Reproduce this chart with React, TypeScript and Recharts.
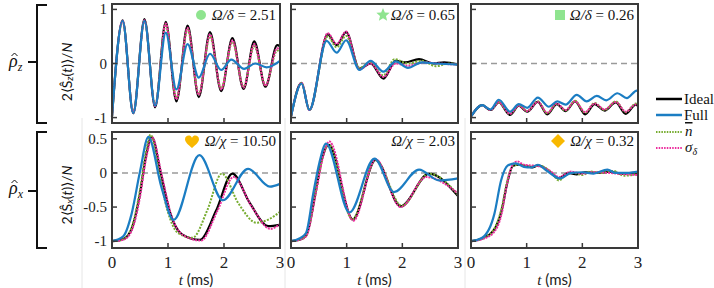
import { LineChart, Line, XAxis, YAxis, ReferenceLine } from 'recharts';

type Pt = [number, number];

// top row: 2<S_z(t)>/N, columns Ω/δ = 2.51, 0.65, 0.26
const zIdealA: Pt[] = [[0, -0.98], [0.19, 0.8], [0.38, -0.92], [0.58, 0.82], [0.77, -0.81], [0.96, 0.77], [1.15, -0.7], [1.35, 0.7], [1.55, -0.62], [1.75, 0.58], [1.95, -0.51], [2.15, 0.47], [2.35, -0.47], [2.54, 0.41], [2.74, -0.43], [2.95, 0.34], [3, 0.32]];
const zNbarA: Pt[] = [[0, -0.98], [0.19, 0.78], [0.38, -0.9], [0.58, 0.79], [0.77, -0.77], [0.96, 0.72], [1.15, -0.64], [1.35, 0.63], [1.55, -0.56], [1.75, 0.5], [1.95, -0.46], [2.15, 0.4], [2.35, -0.43], [2.54, 0.32], [2.74, -0.4], [2.95, 0.24], [3, 0.22]];
const zSigmaA: Pt[] = [[0, -0.98], [0.19, 0.79], [0.38, -0.91], [0.58, 0.8], [0.77, -0.79], [0.96, 0.74], [1.15, -0.66], [1.35, 0.66], [1.55, -0.58], [1.75, 0.54], [1.95, -0.48], [2.15, 0.43], [2.35, -0.45], [2.54, 0.36], [2.74, -0.41], [2.95, 0.28], [3, 0.26]];
const zFullA: Pt[] = [[0, -0.98], [0.19, 0.79], [0.38, -0.92], [0.58, 0.79], [0.77, -0.78], [0.96, 0.57], [1.15, -0.48], [1.35, 0.36], [1.55, -0.26], [1.75, 0.18], [1.95, -0.12], [2.13, 0.07], [2.36, -0.1], [2.56, 0.0], [2.76, -0.07], [3, 0.05]];

const zIdealB: Pt[] = [[0, -0.98], [0.19, -0.36], [0.33, -0.86], [0.66, 0.54], [0.82, 0.34], [0.99, 0.58], [1.23, -0.1], [1.43, 0.0], [1.66, -0.28], [1.88, 0.05], [2.05, 0.02], [2.3, 0.08], [2.55, 0.0], [2.75, 0.02], [3, -0.02]];
const zNbarB: Pt[] = [[0, -0.98], [0.19, -0.36], [0.33, -0.86], [0.66, 0.5], [0.82, 0.3], [0.99, 0.51], [1.23, -0.08], [1.43, 0.02], [1.66, -0.22], [1.86, 0.08], [2.1, 0.0], [2.35, 0.05], [2.6, -0.05], [2.85, 0.0], [3, -0.02]];
const zSigmaB: Pt[] = [[0, -0.98], [0.19, -0.36], [0.33, -0.86], [0.66, 0.56], [0.82, 0.36], [0.99, 0.59], [1.23, -0.11], [1.43, 0.0], [1.66, -0.25], [1.88, 0.0], [2.1, -0.04], [2.4, 0.02], [2.65, 0.0], [3, -0.02]];
const zFullB: Pt[] = [[0, -0.98], [0.19, -0.37], [0.33, -0.86], [0.64, 0.42], [0.82, 0.2], [0.99, 0.43], [1.23, -0.12], [1.43, 0.05], [1.66, -0.15], [1.88, 0.04], [2.1, -0.08], [2.35, 0.02], [2.6, 0.0], [3, -0.02]];

const zIdealC: Pt[] = [[0, -0.98], [0.2, -0.77], [0.35, -0.86], [0.5, -0.72], [0.7, -0.95], [0.86, -0.78], [1.01, -0.89], [1.2, -0.71], [1.37, -0.94], [1.54, -0.75], [1.7, -0.88], [1.87, -0.7], [2.05, -0.94], [2.22, -0.75], [2.4, -0.87], [2.6, -0.72], [2.78, -0.93], [2.96, -0.76], [3, -0.78]];
const zNbarC: Pt[] = [[0, -0.98], [0.2, -0.77], [0.35, -0.86], [0.5, -0.72], [0.7, -0.93], [0.86, -0.77], [1.01, -0.88], [1.2, -0.7], [1.37, -0.92], [1.54, -0.74], [1.7, -0.87], [1.87, -0.69], [2.05, -0.91], [2.22, -0.73], [2.4, -0.86], [2.6, -0.7], [2.78, -0.9], [2.96, -0.74], [3, -0.76]];
const zSigmaC: Pt[] = [[0, -0.98], [0.2, -0.77], [0.35, -0.86], [0.5, -0.72], [0.7, -0.93], [0.86, -0.78], [1.01, -0.88], [1.2, -0.71], [1.37, -0.91], [1.54, -0.74], [1.7, -0.86], [1.87, -0.7], [2.05, -0.9], [2.22, -0.74], [2.4, -0.85], [2.6, -0.71], [2.78, -0.89], [2.96, -0.76], [3, -0.8]];
const zFullC: Pt[] = [[0, -0.98], [0.2, -0.77], [0.35, -0.85], [0.5, -0.67], [0.7, -0.89], [0.86, -0.75], [1.01, -0.82], [1.2, -0.63], [1.4, -0.8], [1.55, -0.7], [1.7, -0.76], [1.9, -0.58], [2.08, -0.7], [2.26, -0.6], [2.43, -0.68], [2.63, -0.55], [2.8, -0.64], [2.98, -0.5], [3, -0.5]];

// bottom row: 2<S_x(t)>/N, columns Ω/χ = 10.50, 2.03, 0.32
const xIdealA: Pt[] = [[0, -1], [0.2, -0.97], [0.35, -0.82], [0.5, -0.3], [0.6, 0.22], [0.71, 0.53], [0.87, 0.0], [1.04, -0.59], [1.25, -0.9], [1.57, -0.98], [1.86, -0.55], [2.15, -0.01], [2.46, -0.44], [2.79, -0.78], [3, -0.76]];
const xNbarA: Pt[] = [[0, -1], [0.2, -0.97], [0.35, -0.8], [0.5, -0.25], [0.6, 0.28], [0.69, 0.56], [0.84, 0.0], [0.99, -0.55], [1.18, -0.88], [1.44, -0.95], [1.7, -0.55], [1.96, -0.01], [2.26, -0.45], [2.58, -0.73], [2.8, -0.68], [3, -0.57]];
const xSigmaA: Pt[] = [[0, -1], [0.2, -0.98], [0.35, -0.85], [0.5, -0.35], [0.6, 0.17], [0.72, 0.52], [0.88, 0.0], [1.05, -0.6], [1.27, -0.91], [1.59, -0.99], [1.88, -0.56], [2.17, -0.06], [2.5, -0.5], [2.83, -0.82], [3, -0.75]];
const xFullA: Pt[] = [[0, -1], [0.2, -0.93], [0.35, -0.6], [0.5, 0.02], [0.65, 0.53], [0.88, -0.2], [1.1, -0.69], [1.56, 0.26], [1.98, -0.4], [2.43, 0.06], [2.82, -0.2], [3, -0.16]];

const xIdealB: Pt[] = [[0, -1], [0.15, -0.98], [0.27, -0.92], [0.45, -0.25], [0.56, 0.22], [0.68, 0.41], [1.11, -0.68], [1.52, 0.19], [1.97, -0.49], [2.48, -0.01], [3, -0.34]];
const xNbarB: Pt[] = [[0, -1], [0.15, -0.98], [0.27, -0.92], [0.45, -0.25], [0.56, 0.2], [0.68, 0.41], [1.1, -0.68], [1.52, 0.19], [1.99, -0.48], [2.48, -0.01], [3, -0.32]];
const xSigmaB: Pt[] = [[0, -1], [0.15, -0.98], [0.27, -0.93], [0.45, -0.28], [0.57, 0.22], [0.69, 0.46], [1.12, -0.7], [1.52, 0.2], [1.97, -0.5], [2.43, -0.06], [3, -0.3]];
const xFullB: Pt[] = [[0, -1], [0.15, -0.96], [0.27, -0.88], [0.4, -0.3], [0.51, 0.15], [0.63, 0.43], [1.05, -0.58], [1.5, 0.21], [1.85, -0.28], [2.3, 0.05], [2.66, -0.11], [3, -0.08]];

const xIdealC: Pt[] = [[0, -1], [0.2, -0.96], [0.4, -0.85], [0.55, -0.55], [0.65, -0.15], [0.75, 0.1], [0.85, 0.12], [1.0, 0.1], [1.1, 0.08], [1.2, 0.11], [1.35, 0.06], [1.58, -0.08], [1.75, 0.0], [1.9, -0.02], [2.05, 0.01], [2.3, 0.0], [2.5, 0.02], [2.7, -0.01], [2.9, 0.0], [3, -0.01]];
const xNbarC: Pt[] = [[0, -1], [0.2, -0.96], [0.4, -0.84], [0.55, -0.52], [0.65, -0.12], [0.75, 0.1], [0.85, 0.12], [1.05, 0.1], [1.25, 0.1], [1.45, 0.0], [1.58, -0.11], [1.72, -0.02], [1.85, 0.0], [2.0, -0.03], [2.15, 0.02], [2.35, 0.0], [2.55, 0.03], [2.75, -0.04], [2.9, -0.03], [3, 0.0]];
const xSigmaC: Pt[] = [[0, -1], [0.2, -0.97], [0.4, -0.88], [0.55, -0.6], [0.65, -0.15], [0.75, 0.12], [0.83, 0.17], [0.95, 0.12], [1.2, 0.1], [1.4, 0.04], [1.58, -0.06], [1.8, 0.02], [2.0, -0.01], [2.2, 0.01], [2.5, 0.0], [2.8, -0.02], [3, -0.03]];
const xFullC: Pt[] = [[0, -1], [0.2, -0.95], [0.42, -0.6], [0.54, -0.11], [0.66, 0.11], [0.8, 0.14], [0.95, 0.09], [1.08, 0.08], [1.2, 0.12], [1.35, 0.04], [1.6, -0.08], [1.8, 0.0], [2.0, 0.01], [2.2, -0.01], [2.45, 0.05], [2.6, 0.0], [2.8, 0.0], [3, 0.02]];

const xTicks = [0, 1, 2, 3];
const zTicks = [-1, 0, 1];
const xRowTicks = [-1, -0.5, 0, 0.5];
const ratioLabels = ['2.51', '0.65', '0.26', '10.50', '2.03', '0.32'];

const SERIF = 'Liberation Serif, Times New Roman, DejaVu Serif, serif';
const SANS = 'Lato, Open Sans, sans-serif';
const INK = '#3a3a3a';
const STYLES = {
  ideal: { stroke: '#000000', dash: undefined, width: 2.2 },
  nbar: { stroke: '#77ac30', dash: '2 1.4', width: 2 },
  sigma: { stroke: '#ec2d9d', dash: '2 1', width: 2 },
  full: { stroke: '#1b7dc3', dash: undefined, width: 2.2 },
};

const COLS = [{ left: 112, w: 168 }, { left: 291, w: 167 }, { left: 471, w: 167 }];
const ROWS = [{ top: 4, h: 119 }, { top: 132, h: 116 }];
const YW = 40;
const XH = 30;
const RM = 12;

const toRows = (pts: Pt[]) => pts.map(([t, v]) => ({ t, v }));

function XTick(props: any) {
  const { x, y, payload, show } = props;
  return (
    <g>
      <line x1={x} y1={y} x2={x} y2={y - 5} stroke={INK} strokeWidth={1.5} />
      {show && (
        <text x={x} y={y + 20} textAnchor="middle" fontFamily={SERIF} fontSize={17} fill="#222">
          {payload.value}
        </text>
      )}
    </g>
  );
}

function YTick(props: any) {
  const { x, y, payload, show } = props;
  return (
    <g>
      <line x1={x} y1={y} x2={x + 5} y2={y} stroke={INK} strokeWidth={1.5} />
      {show && (
        <text x={x - 5} y={y + 5} textAnchor="end" fontFamily={SERIF} fontSize={15} fill="#222">
          {payload.value}
        </text>
      )}
    </g>
  );
}

function Panel({ col, row, series }: { col: number; row: number; series: Record<string, Pt[]> }) {
  const { left, w } = COLS[col];
  const { top, h } = ROWS[row];
  const domain = row === 0 ? [-1.1, 1.1] : [-1.1, 0.6];
  const ticks = row === 0 ? zTicks : xRowTicks;
  return (
    <div style={{ position: 'absolute', left: left - YW, top: top - 2 }}>
      <LineChart width={YW + w + RM} height={h + 2 + XH} margin={{ top: 2, right: RM, bottom: 0, left: 0 }}>
        <XAxis
          type="number"
          dataKey="t"
          domain={[0, 3]}
          ticks={xTicks}
          interval={0}
          height={XH}
          axisLine={false}
          tickLine={false}
          tickSize={0}
          tickMargin={0}
          tick={(p: any) => <XTick {...p} show={row === 1} />}
        />
        <YAxis
          type="number"
          domain={domain}
          ticks={ticks}
          interval={0}
          width={YW}
          axisLine={false}
          tickLine={false}
          tickSize={0}
          tickMargin={0}
          tick={(p: any) => <YTick {...p} show={col === 0} />}
        />
        <ReferenceLine y={0} stroke="#9a9a9a" strokeWidth={1.5} strokeDasharray="6 4" />
        {(['ideal', 'nbar', 'sigma', 'full'] as const).map((k) => (
          <Line
            key={k}
            data={toRows(series[k])}
            dataKey="v"
            type="monotone"
            stroke={STYLES[k].stroke}
            strokeWidth={STYLES[k].width}
            strokeDasharray={STYLES[k].dash}
            dot={false}
            activeDot={false}
            isAnimationActive={false}
          />
        ))}
      </LineChart>
    </div>
  );
}

function Star({ cx, cy, r }: { cx: number; cy: number; r: number }) {
  const pts: string[] = [];
  for (let i = 0; i < 10; i++) {
    const a = -Math.PI / 2 + (i * Math.PI) / 5;
    const rr = i % 2 === 0 ? r : r * 0.45;
    pts.push(`${cx + rr * Math.cos(a)},${cy + rr * Math.sin(a)}`);
  }
  return <polygon points={pts.join(' ')} fill="#8fe48f" />;
}

function Heart({ cx, cy }: { cx: number; cy: number }) {
  return (
    <path
      transform={`translate(${cx},${cy})`}
      d="M0,6 C-4,2.5 -7,0 -7,-2.8 C-7,-5.8 -4.2,-7 -2.3,-6.4 C-1.1,-6 -0.3,-5 0,-4 C0.3,-5 1.1,-6 2.3,-6.4 C4.2,-7 7,-5.8 7,-2.8 C7,0 4,2.5 0,6 Z"
      fill="#f8b800"
    />
  );
}

function Ratio({ x, y, sym, value }: { x: number; y: number; sym: string; value: string }) {
  return (
    <text x={x} y={y} textAnchor="end" fontFamily={SERIF} fontSize={15} fill="#111">
      <tspan fontStyle="italic">Ω/{sym}</tspan> = {value}
    </text>
  );
}

function YTitle({ cx, cy, sub }: { cx: number; cy: number; sub: string }) {
  return (
    <text
      x={cx}
      y={cy}
      transform={`rotate(-90 ${cx} ${cy})`}
      textAnchor="middle"
      dominantBaseline="central"
      fontFamily={SANS}
      fontSize={14}
      fill="#111"
    >
      2⟨Ŝ<tspan dy={3} fontSize={10} fontStyle="italic">{sub}</tspan>
      <tspan dy={-3}>(</tspan>
      <tspan fontStyle="italic">t</tspan>)⟩/<tspan fontStyle="italic">N</tspan>
    </text>
  );
}

function RowLabel({ x, y, sub }: { x: number; y: number; sub: string }) {
  // hat drawn as a small stroke above the rho
  return (
    <g>
      <text x={x} y={y} fontFamily={SERIF} fontStyle="italic" fontSize={18} fill="#111">
        ρ<tspan dy={4} fontSize={12}>{sub}</tspan>
      </text>
      <path d={`M${x + 2.5},${y - 11} L${x + 5.5},${y - 14} L${x + 8.5},${y - 11}`} fill="none" stroke="#111" strokeWidth={1} />
    </g>
  );
}

function Brace({ y0, y1, ym }: { y0: number; y1: number; ym: number }) {
  return (
    <path
      d={`M47,${y0} L37,${y0} L37,${y1} L47,${y1} M28,${ym} L37,${ym}`}
      fill="none"
      stroke="#111"
      strokeWidth={2}
    />
  );
}

export default function App() {
  return (
    <div style={{ position: 'fixed', left: 0, top: 0, width: 714, height: 288, background: '#fff', overflow: 'hidden' }}>
      <svg width={714} height={288} style={{ position: 'absolute', left: 0, top: 0 }}>
        {[82, 285, 465].map((x) => (
          <line key={x} x1={x} y1={118} x2={x} y2={288} stroke="#e6e6e6" strokeWidth={1} />
        ))}
      </svg>
      <Panel col={0} row={0} series={{ ideal: zIdealA, nbar: zNbarA, sigma: zSigmaA, full: zFullA }} />
      <Panel col={1} row={0} series={{ ideal: zIdealB, nbar: zNbarB, sigma: zSigmaB, full: zFullB }} />
      <Panel col={2} row={0} series={{ ideal: zIdealC, nbar: zNbarC, sigma: zSigmaC, full: zFullC }} />
      <Panel col={0} row={1} series={{ ideal: xIdealA, nbar: xNbarA, sigma: xSigmaA, full: xFullA }} />
      <Panel col={1} row={1} series={{ ideal: xIdealB, nbar: xNbarB, sigma: xSigmaB, full: xFullB }} />
      <Panel col={2} row={1} series={{ ideal: xIdealC, nbar: xNbarC, sigma: xSigmaC, full: xFullC }} />
      <svg width={714} height={288} style={{ position: 'absolute', left: 0, top: 0, pointerEvents: 'none' }}>
        {ROWS.map((r, ri) =>
          COLS.map((c, ci) => (
            <rect key={`${ri}-${ci}`} x={c.left} y={r.top} width={c.w} height={r.h} fill="none" stroke={INK} strokeWidth={2} />
          ))
        )}
        {/* panel annotations */}
        <circle cx={201} cy={15} r={5} fill="#8fe48f" />
        <Ratio x={276} y={20} sym="δ" value={ratioLabels[0]} />
        <Star cx={383} cy={15} r={7} />
        <Ratio x={455} y={20} sym="δ" value={ratioLabels[1]} />
        <rect x={555} y={10} width={10} height={10} fill="#8fe48f" />
        <Ratio x={634} y={20} sym="δ" value={ratioLabels[2]} />
        <Heart cx={192} cy={142} />
        <Ratio x={276} y={146} sym="χ" value={ratioLabels[3]} />
        <Ratio x={455} y={146} sym="χ" value={ratioLabels[4]} />
        <polygon points="558,134 565,141 558,148 551,141" fill="#f8b800" />
        <Ratio x={634} y={146} sym="χ" value={ratioLabels[5]} />

        {/* x-axis titles */}
        {COLS.map((c) => (
          <text key={c.left} x={c.left + c.w / 2} y={285} textAnchor="middle" fontSize={15} fill="#222" fontFamily={SANS}>
            <tspan fontFamily={SERIF} fontStyle="italic">t</tspan> (ms)
          </text>
        ))}

        {/* y-axis titles */}
        <YTitle cx={66} cy={72} sub="z" />
        <YTitle cx={66} cy={195} sub="x" />

        {/* row labels and braces */}
        <RowLabel x={9} y={67} sub="z" />
        <Brace y0={5} y1={123} ym={62} />
        <RowLabel x={9} y={194} sub="x" />
        <Brace y0={132} y1={248} ym={191} />

        {/* legend */}
        <line x1={656} y1={99} x2={682} y2={99} stroke="#000" strokeWidth={2.5} />
        <text x={684} y={104} fontFamily={SERIF} fontSize={15} fill="#111">Ideal</text>
        <line x1={656} y1={115} x2={682} y2={115} stroke="#1b7dc3" strokeWidth={2.5} />
        <text x={684} y={120} fontFamily={SERIF} fontSize={15} fill="#111">Full</text>
        <line x1={656} y1={132} x2={682} y2={132} stroke="#77ac30" strokeWidth={2} strokeDasharray="1.5 1.2" />
        <text x={685} y={136} fontFamily={SERIF} fontStyle="italic" fontSize={15} fill="#111" textDecoration="overline">n</text>
        <line x1={656} y1={148} x2={682} y2={148} stroke="#ec2d9d" strokeWidth={2} strokeDasharray="1.5 1.2" />
        <text x={685} y={152} fontFamily={SERIF} fontStyle="italic" fontSize={15} fill="#111">
          σ<tspan dy={3} fontSize={10}>δ</tspan>
        </text>
      </svg>
    </div>
  );
}
